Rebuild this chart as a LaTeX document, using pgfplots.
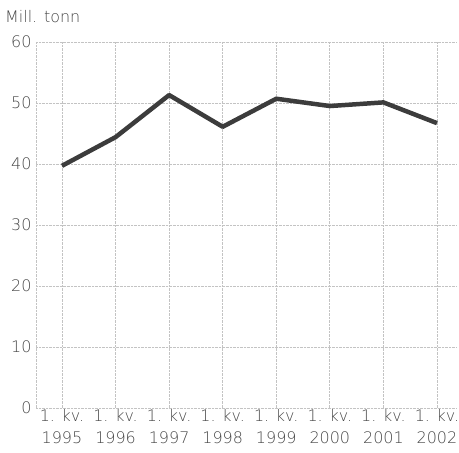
\documentclass[border=0pt]{standalone}
\usepackage{pgfplots}
\pgfplotsset{compat=1.18}
\usepackage{fontspec}
\setmainfont{DejaVu Sans ExtraLight}
\definecolor{txt}{RGB}{70,70,70}
\definecolor{grd}{RGB}{195,195,195}
\definecolor{ln}{RGB}{60,60,60}
\begin{document}
\begin{tikzpicture}
\begin{axis}[
  name=ax,
  scale only axis,
  width=420bp, height=366bp,
  xmin=-0.485, xmax=7.355,
  ymin=0, ymax=60,
  ytick={0,10,...,60},
  xtick={0,...,7},
  xticklabels={{1. kv.\\1995},{1. kv.\\1996},{1. kv.\\1997},{1. kv.\\1998},{1. kv.\\1999},{1. kv.\\2000},{1. kv.\\2001},{1. kv.\\2002}},
  xticklabel style={align=center, font=\fontsize{16}{22}\selectfont, text=txt, yshift=2bp},
  yticklabel style={font=\fontsize{16}{16}\selectfont, text=txt, xshift=-1bp},
  /pgf/number format/assume math mode=true,
  axis line style={draw=none},
  major tick length=0pt,
  grid=major,
  major grid style={grd, line width=0.7pt, dash pattern=on 0.5pt off 0.9pt},
  extra x ticks={-0.485},
  extra x tick labels={},
  extra x tick style={grid=major},
  clip=false,
]
\addplot[ln, line width=4.5pt, line join=round] coordinates {
  (0,39.7) (1,44.4) (2,51.3) (3,46.1) (4,50.7) (5,49.5) (6,50.1) (7,46.7)
};
\node[anchor=base west, text=txt, font=\fontsize{16}{16}\selectfont, inner sep=0pt] at (rel axis cs:0,1) [xshift=-31bp, yshift=19bp] {Mill. tonn};
\end{axis}
\pgfresetboundingbox
\path[use as bounding box] ([xshift=-36bp,yshift=-45bp]ax.south west) rectangle ([xshift=3bp,yshift=42bp]ax.north east);
\end{tikzpicture}
\end{document}
